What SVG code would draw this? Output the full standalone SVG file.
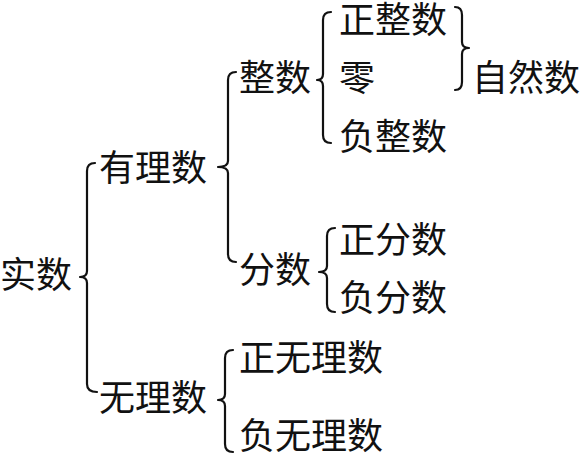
<svg xmlns="http://www.w3.org/2000/svg" width="581" height="456" viewBox="0 0 581 456">
<style>
text{font-family:"Noto Sans CJK SC","Noto Sans CJK JP",sans-serif;font-size:36px;fill:#111}
.b{fill:none;stroke:#111;stroke-width:2.2;stroke-linecap:round;stroke-linejoin:round}
</style>
<rect width="581" height="456" fill="#fff"/>
<g id="connectors">
<path class="b" d="M95,163 Q87,163 87,171 L87,271 Q87,277 80,277 Q87,277 87,283 L87,384 Q87,392 97,392"/>
<path class="b" d="M236,72 Q228,72 228,80 L228,161 Q228,167 218,167 Q228,167 228,173 L228,254 Q228,262 236,262"/>
<path class="b" d="M331,12 Q323,12 323,20 L323,74 Q323,80 317,80 Q323,80 323,86 L323,135 Q323,143 331,143"/>
<path class="b" d="M335,228 Q327,228 327,236 L327,266 Q327,272 319,272 Q327,272 327,278 L327,304 Q327,312 335,312"/>
<path class="b" d="M233,350 Q225,350 225,358 L225,394 Q225,400 218,400 Q225,400 225,406 L225,444 Q225,452 233,452"/>
<path class="b" d="M455,7 Q462,7 462,15 L462,42 Q462,48 469,48 Q462,48 462,54 L462,82 Q462,90 455,90"/>
</g>
<g id="n-shishu"><text x="0" y="288">实数</text></g>
<g id="n-youlishu"><text x="99" y="181">有理数</text></g>
<g id="n-wulishu"><text x="99" y="411">无理数</text></g>
<g id="n-zhengshu"><text x="239" y="91">整数</text></g>
<g id="n-fenshu"><text x="239" y="283">分数</text></g>
<g id="n-zhengzhengshu"><text x="339" y="33">正整数</text></g>
<g id="n-ling"><text x="339" y="91">零</text></g>
<g id="n-fuzhengshu"><text x="339" y="150">负整数</text></g>
<g id="n-ziranshu"><text x="472" y="91">自然数</text></g>
<g id="n-zhengfenshu"><text x="339" y="253">正分数</text></g>
<g id="n-fufenshu"><text x="339" y="311">负分数</text></g>
<g id="n-zhengwulishu"><text x="239" y="371">正无理数</text></g>
<g id="n-fuwulishu"><text x="239" y="449">负无理数</text></g>
</svg>
